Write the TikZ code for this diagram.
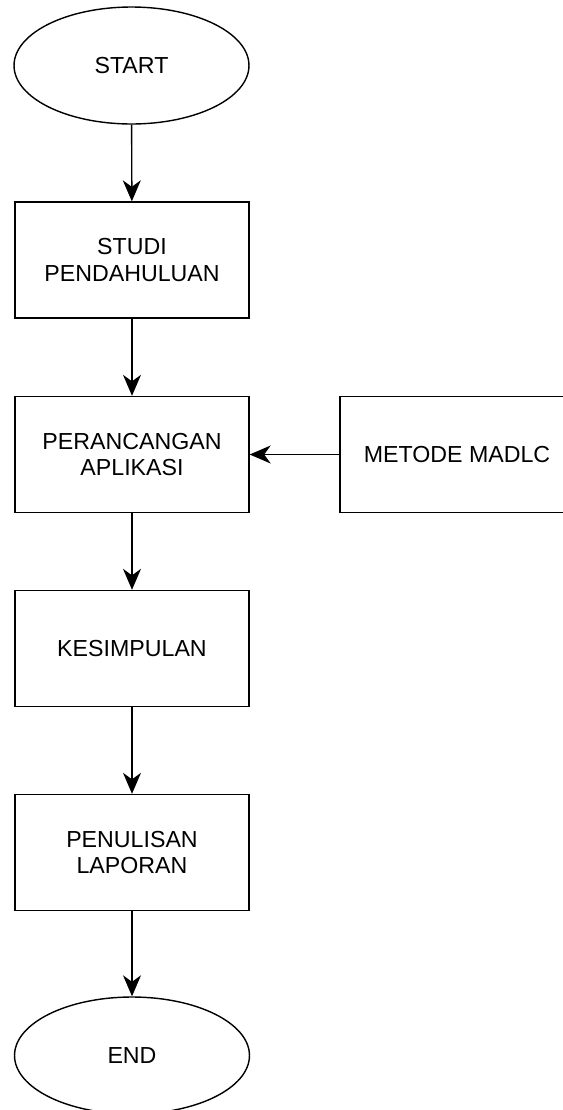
\documentclass[tikz,border=0pt]{standalone}
\usepackage{fontspec}
\setmainfont{Liberation Sans}
\usetikzlibrary{shapes.geometric,arrows.meta}
\begin{document}
\begin{tikzpicture}[
x = 0.02cm, y = -0.02cm,
line width = 0.8pt,
>={Stealth[length=4.2mm, width=3.6mm, inset=1.3mm]},
every node/.style={font=\fontsize{13.2}{15.2}\selectfont, align=center},
stepbox/.style={rectangle, draw, minimum width=4.68cm, minimum height=2.32cm},
terminal/.style={ellipse, draw, minimum width=4.7cm, minimum height=2.34cm, inner sep=0pt},
]
  \clip (0,0) rectangle (563,1110);
  \node[terminal] (start) at (131.5,65.5) {START};
  \node[stepbox] (studi) at (132,260) {STUDI\\PENDAHULUAN};
  \node[stepbox] (rancang) at (132,454.5) {PERANCANGAN\\APLIKASI};
  \node[stepbox] (madlc) at (457,454.5) {METODE MADLC};
  \node[stepbox] (simpul) at (132,648.5) {KESIMPULAN};
  \node[stepbox] (laporan) at (132,852.5) {PENULISAN\\LAPORAN};
  \node[terminal] (end) at (132,1055.5) {END};
  \draw[->] (start) -- (studi);
  \draw[->] (studi) -- (rancang);
  \draw[->] (madlc) -- (rancang);
  \draw[->] (rancang) -- (simpul);
  \draw[->] (simpul) -- (laporan);
  \draw[->] (laporan) -- (end);
\end{tikzpicture}
\end{document}
